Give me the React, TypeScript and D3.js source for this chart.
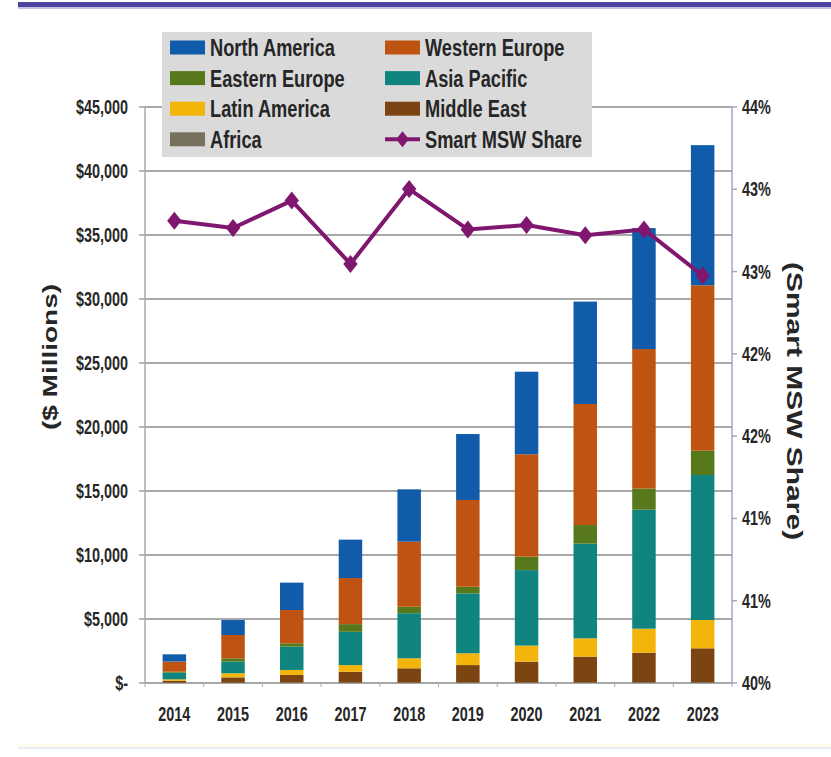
import React from "react";
import * as d3 from "d3";

const years = ["2014", "2015", "2016", "2017", "2018", "2019", "2020", "2021", "2022", "2023"];
const africa = [30, 30, 40, 40, 50, 50, 60, 60, 70, 80];
const middleEast = [150, 410, 590, 840, 1100, 1350, 1610, 2000, 2300, 2630];
const latinAmerica = [110, 320, 390, 520, 780, 920, 1250, 1430, 1870, 2210];
const asiaPacific = [520, 910, 1820, 2600, 3520, 4680, 5900, 7400, 9300, 11330];
const easternEurope = [70, 260, 260, 600, 510, 520, 1050, 1450, 1650, 1900];
const westernEurope = [790, 1820, 2600, 3600, 5080, 6780, 8000, 9460, 10900, 12920];
const northAmerica = [570, 1170, 2140, 3000, 4090, 5150, 6450, 8000, 9450, 10950];
const smartShare = [43.21, 43.16, 43.35, 42.91, 43.43, 43.15, 43.18, 43.11, 43.15, 42.83];

const leftTicks = [0, 5000, 10000, 15000, 20000, 25000, 30000, 35000, 40000, 45000];

const seriesNames = ["Africa", "Middle East", "Latin America", "Asia Pacific", "Eastern Europe", "Western Europe", "North America"];
const seriesValues = [africa, middleEast, latinAmerica, asiaPacific, easternEurope, westernEurope, northAmerica];
const colors: Record<string, string> = {
  "North America": "#105BAA",
  "Western Europe": "#BF5412",
  "Eastern Europe": "#58781C",
  "Asia Pacific": "#10857F",
  "Latin America": "#F4B50A",
  "Middle East": "#7B4410",
  "Africa": "#77705E",
};
const lineColor = "#80176E";
const legendItems = [
  ["North America", "Western Europe"],
  ["Eastern Europe", "Asia Pacific"],
  ["Latin America", "Middle East"],
  ["Africa", "Smart MSW Share"],
];

const FONT = "'Liberation Sans', Arial, Helvetica, sans-serif";

function Txt(props: any) {
  const { x, y, size, anchor = "start", rotate = 0, fill = "#262626", sx = 0.8, children } = props;
  const tr = `translate(${x},${y}) scale(${sx},1)` + (rotate ? ` rotate(${rotate})` : "");
  return (
    <text
      transform={tr}
      fontSize={size}
      textAnchor={anchor}
      fontWeight="bold"
      fill={fill}
      fontFamily={FONT}
      dy="0.35em"
    >
      {children}
    </text>
  );
}

function diamond(cx: number, cy: number, r: number) {
  return `M${cx},${cy - r}L${cx + r * 0.8},${cy}L${cx},${cy + r}L${cx - r * 0.8},${cy}Z`;
}

export default function App() {
  const W = 831;
  const H = 757;
  const left = 145;
  const right = 732;
  const top = 107;
  const bottom = 683;

  const x = d3.scaleBand<string>().domain(years).range([left, right]).paddingInner(0.6).paddingOuter(0.3);
  const y = d3.scaleLinear().domain([0, 45000]).range([bottom, top]);
  const y2 = d3.scaleLinear().domain([40, 44]).range([bottom, top]);
  const rightTicks = d3.range(8).map((i) => 40 + (i * 4) / 7);

  const table = years.map((yr, i) => {
    const row: any = { year: yr };
    seriesNames.forEach((n, k) => (row[n] = seriesValues[k][i]));
    return row;
  });
  const stacked = d3.stack<any>().keys(seriesNames)(table);

  const fmtLeft = (v: number) => (v === 0 ? "$-" : "$" + d3.format(",")(v));
  const line = d3
    .line<number>()
    .x((_, i) => (x(years[i]) as number) + x.bandwidth() / 2)
    .y((d) => y2(d));

  const step = x.step();
  const boundaries = d3.range(years.length + 1).map((i) => left + i * step);

  return (
    <svg width={W} height={H} style={{ position: "absolute", left: 0, top: 0, background: "#fff" }}>
      <rect x={0} y={0} width={W} height={H} fill="#ffffff" />
      {/* top banner line */}
      <rect x={18} y={2} width={W - 18} height={5} fill="#4B44A0" />
      <rect x={18} y={7} width={W - 18} height={2} fill="#9C98CC" opacity={0.6} />
      {/* bottom faint line */}
      <rect x={18} y={744} width={W - 18} height={3} fill="#FFFBEA" />
      <rect x={18} y={747} width={W - 18} height={2} fill="#ECEBFA" />

      {/* gridlines */}
      {leftTicks.map((t) => (
        <line key={"g" + t} x1={left} x2={right} y1={y(t)} y2={y(t)} stroke="#A8A8A8" strokeWidth={2} />
      ))}
      {/* left axis */}
      <line x1={left} x2={left} y1={top} y2={bottom} stroke="#A8A8A8" strokeWidth={1.5} />
      {leftTicks.map((t) => (
        <line key={"lt" + t} x1={left - 6} x2={left} y1={y(t)} y2={y(t)} stroke="#A0A0A0" strokeWidth={1.5} />
      ))}
      {leftTicks.map((t) => (
        <Txt key={"ll" + t} x={128} y={y(t)} size={20} sx={0.72} anchor="end">
          {fmtLeft(t)}
        </Txt>
      ))}
      {/* right axis */}
      <line x1={right} x2={right} y1={top} y2={bottom} stroke="#A3A6C6" strokeWidth={1.5} />
      {rightTicks.map((t, i) => (
        <line key={"rt" + i} x1={right} x2={right + 5} y1={y2(t)} y2={y2(t)} stroke="#A3A6C6" strokeWidth={1.5} />
      ))}
      {rightTicks.map((t, i) => (
        <Txt key={"rl" + i} x={742} y={y2(t)} size={20} sx={0.72}>
          {Math.round(t) + "%"}
        </Txt>
      ))}
      {/* x ticks */}
      {boundaries.map((b, i) => (
        <line key={"xt" + i} x1={b} x2={b} y1={bottom} y2={bottom + 4} stroke="#A8A8A8" strokeWidth={1} />
      ))}

      {/* bars */}
      {stacked.map((s) => (
        <g key={s.key} fill={colors[s.key]}>
          {s.map((d, i) => (
            <rect
              key={i}
              x={x(years[i])}
              width={x.bandwidth()}
              y={y(d[1])}
              height={Math.max(0, y(d[0]) - y(d[1]))}
            />
          ))}
        </g>
      ))}

      {/* x labels */}
      {years.map((yr) => (
        <Txt key={"x" + yr} x={(x(yr) as number) + x.bandwidth() / 2} y={714} size={20} sx={0.72} anchor="middle">
          {yr}
        </Txt>
      ))}

      {/* share line */}
      <path d={line(smartShare) || ""} fill="none" stroke={lineColor} strokeWidth={4} strokeLinejoin="round" />
      {smartShare.map((v, i) => (
        <path key={"m" + i} d={diamond((x(years[i]) as number) + x.bandwidth() / 2, y2(v), 9)} fill={lineColor} />
      ))}

      {/* axis titles */}
      <Txt x={50} y={357} size={28} sx={0.75} anchor="middle" rotate={-90}>
        ($ Millions)
      </Txt>
      <Txt x={795} y={401} size={30} sx={0.72} anchor="middle" rotate={90}>
        (Smart MSW Share)
      </Txt>

      {/* legend */}
      <rect x={162} y={32} width={430} height={125} fill="#DADADA" />
      {legendItems.map((row, r) =>
        row.map((name, c) => {
          const ly = 47.5 + r * 30.6;
          const sx = c === 0 ? 170 : 385;
          return (
            <g key={name}>
              {name === "Smart MSW Share" ? (
                <g>
                  <line x1={sx} x2={sx + 35} y1={ly} y2={ly} stroke={lineColor} strokeWidth={4} />
                  <path d={diamond(sx + 17.5, ly, 8)} fill={lineColor} />
                </g>
              ) : (
                <rect x={sx} y={ly - 7} width={35} height={14} fill={colors[name]} />
              )}
              <Txt x={sx + 40} y={ly} size={24} sx={0.76}>
                {name}
              </Txt>
            </g>
          );
        })
      )}
    </svg>
  );
}
